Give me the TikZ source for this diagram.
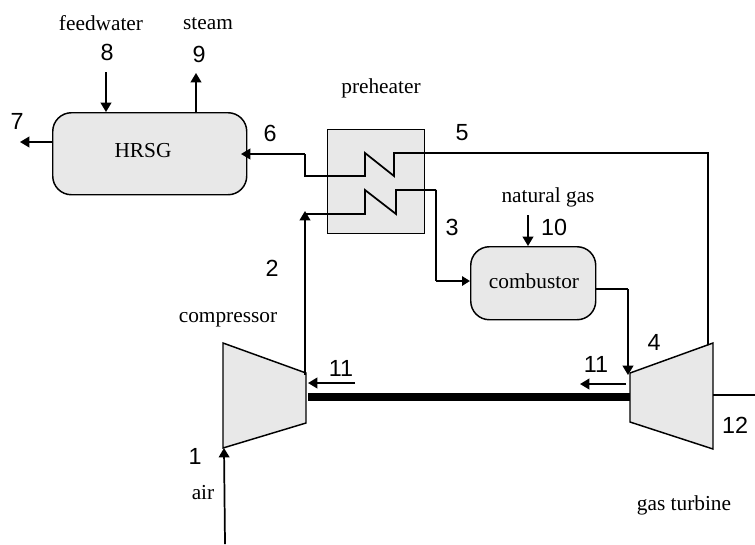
\documentclass[tikz,border=0pt]{standalone}
\usepackage{fontspec}
\setmainfont{Liberation Serif}
\newfontfamily\numfont{Liberation Sans}
\usetikzlibrary{arrows.meta}
\definecolor{unitfill}{RGB}{232,232,232}
\tikzset{
  x=0.75pt,y=-0.75pt,
  unit/.style={draw=black,line width=1.1pt,fill=unitfill},
  roundunit/.style={unit,rounded corners=14pt,inner sep=0pt,anchor=north west},
  pipe/.style={draw=black,line width=1.3pt,line join=miter},
  thickpipe/.style={draw=black,line width=2pt},
  flow/.style={pipe,-{Triangle[length=7pt,width=8pt]}},
  thickflow/.style={thickpipe,-{Triangle[length=6pt,width=7pt]}},
  lbl/.style={font=\fontsize{16}{16}\selectfont,inner sep=0pt},
  num/.style={font=\numfont\fontsize{17.5}{17.5}\selectfont,inner sep=0pt},
}
\begin{document}
\begin{tikzpicture}
\useasboundingbox (0,0) rectangle (755,544);
% coordinates
\coordinate (c1) at (223,343); \coordinate (c2) at (306,373); \coordinate (c3) at (306,423); \coordinate (c4) at (223,448);
\coordinate (t1) at (630,373); \coordinate (t2) at (713,343); \coordinate (t3) at (713,449); \coordinate (t4) at (630,422);
% units
\draw[unit] (c1)--(c2)--(c3)--(c4)--cycle;
\draw[unit] (t1)--(t2)--(t3)--(t4)--cycle;
\node[unit,draw=black,line width=0.9pt,minimum width=72.75pt,minimum height=78pt,inner sep=0pt,anchor=north west] (pre) at (327,129) {};
\node[roundunit,minimum width=145.5pt,minimum height=61.5pt] (hrsg) at (52,112) {};
\node[lbl] (hrsgt) at (143,151) {HRSG};
\node[roundunit,minimum width=93.75pt,minimum height=54.75pt] (comb) at (470,246) {};
\node[lbl] (combt) at (534,281) {combustor};
% shaft
\coordinate (sa) at (308,397); \coordinate (sb) at (630,397);
\draw[line width=6.5pt] (sa)--(sb);
% upper coil
\coordinate (u0) at (708,345);\coordinate (u1) at (708,153);\coordinate (u2) at (394,153);\coordinate (u3) at (394,176);\coordinate (u4) at (365,153);\coordinate (u5) at (365,176);\coordinate (u6) at (305,176);\coordinate (u7) at (305,154);\coordinate (u8) at (241,154);
\draw[pipe] (u0)--(u1)--(u2)--(u3)--(u4)--(u5)--(u6)--(u7);
\draw[flow] (u7)--(u8);
% lower coil
\coordinate (l0) at (305,375);\coordinate (l1) at (305,211);\coordinate (l2) at (305,214);\coordinate (l3) at (365,214);\coordinate (l4) at (365,190);\coordinate (l5) at (396,214);\coordinate (l6) at (396,190);\coordinate (l7) at (436,190);\coordinate (l8) at (436,281);\coordinate (l9) at (470,281);
\draw[flow] (l0)--(l1);
\draw[pipe] (l2)--(l3)--(l4)--(l5)--(l6)--(l7);
\draw[thickpipe] (l7)--(l8);
\draw[thickflow] (l8)--(l9);
% combustor to turbine
\coordinate (b1) at (595,289);\coordinate (b2) at (628,289);\coordinate (b3) at (628,375);
\draw[pipe] (b1)--(b2);
\draw[flow] (b2)--(b3);
% other flows
\coordinate (fw) at (106,72);\coordinate (fwe) at (106,112);
\draw[flow] (fw)--(fwe);
\coordinate (st) at (196,113);\coordinate (ste) at (196,73);
\draw[flow] (st)--(ste);
\coordinate (ex) at (53,142);\coordinate (exe) at (20,142);
\draw[flow] (ex)--(exe);
\coordinate (ng) at (528,215);\coordinate (nge) at (528,246);
\draw[flow] (ng)--(nge);
\coordinate (air) at (225,544);\coordinate (aire) at (224,448);
\draw[flow] (air)--(aire);
\coordinate (w1) at (355,383);\coordinate (w1e) at (308,383);
\draw[flow] (w1)--(w1e);
\coordinate (w2) at (626,384);\coordinate (w2e) at (580,384);
\draw[flow] (w2)--(w2e);
\coordinate (p1) at (713,395);\coordinate (p2) at (755,395);
\draw[line width=1pt] (p1)--(p2);
% text labels
\node[lbl] (tfw) at (101,23) {feedwater};
\node[lbl] (tst) at (208,24) {steam};
\node[lbl] (tpr) at (381,88) {preheater};
\node[lbl] (tng) at (548,197) {natural gas};
\node[lbl] (tco) at (228,320) {compressor};
\node[lbl] (tai) at (203,493) {air};
\node[lbl] (tgt) at (684,505) {gas turbine};
% numbers
\node[num] (n8) at (107,52) {8};
\node[num] (n9) at (199,54) {9};
\node[num] (n7) at (17,121) {7};
\node[num] (n6) at (270,133) {6};
\node[num] (n5) at (462,133) {5};
\node[num] (n3) at (452,227) {3};
\node[num] (n2) at (272,268) {2};
\node[num] (n10) at (554,227) {10};
\node[num] (n4) at (654,342) {4};
\node[num] (n11a) at (341,368) {11};
\node[num] (n11b) at (596,364) {11};
\node[num] (n12) at (735,425) {12};
\node[num] (n1) at (195,456) {1};
\end{tikzpicture}
\end{document}
